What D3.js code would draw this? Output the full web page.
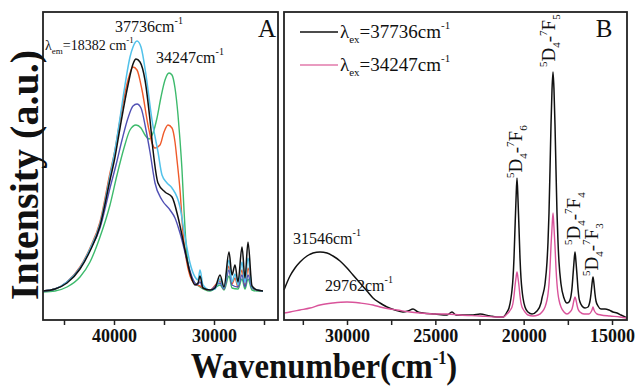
<!DOCTYPE html>
<html><head><meta charset="utf-8">
<script src="https://cdn.jsdelivr.net/npm/d3@7"></script>
<style>
body{margin:0;background:#fff}
svg{display:block}
svg text{font-family:"Liberation Serif","Times New Roman","DejaVu Serif",serif;}
</style>
</head><body>
<svg id="c" width="636" height="386"></svg>
<script>
// ---------- DATA (wavenumber cm^-1, intensity a.u.) ----------
// Panel A : excitation spectra
const blackA = [[47100,29],[45900,31],[44700,37],[43400,51],[42400,69],[41400,94],[40400,140],[39900,163],[39400,192],[38600,235],[38100,256],[37800,261],[37400,258],[36900,240],[36400,200],[36100,170],[35600,137],[34900,128],[34200,123],[33600,103],[32900,70],[32400,47],[31900,35],[31600,37],[31400,44],[31100,32],[30400,30],[29900,32],[29400,45],[29000,33],[28500,68],[28200,45],[27900,55],[27600,38],[27200,73],[26900,42],[26600,78],[26200,34],[25700,30],[25100,29]];
const cyanA = [[47100,29],[45900,31],[44700,38],[43400,52],[42400,71],[41400,96],[40400,144],[39900,170],[39400,202],[38900,235],[38400,263],[38100,273],[37700,279],[37300,273],[36800,245],[36200,200],[35600,168],[35200,145],[34700,137],[34200,132],[33400,113],[32900,83],[32400,57],[31900,43],[31600,40],[31400,50],[31100,35],[30400,30],[29900,31],[29400,41],[29000,32],[28500,60],[28200,38],[27900,46],[27600,35],[27200,58],[26900,37],[26600,62],[26200,33],[25700,30],[25100,29]];
const redA = [[47100,29],[45900,31],[44700,38],[43400,53],[42400,72],[41400,98],[40400,147],[39900,170],[39400,200],[38600,240],[38100,253],[37700,250],[37200,230],[36600,195],[36200,177],[35900,172],[35400,175],[35000,188],[34600,195],[34200,192],[33900,178],[33700,160],[33400,130],[33100,87],[32800,62],[32400,44],[31900,36],[31400,34],[30900,31],[30400,30],[29400,39],[29000,31],[28500,54],[28200,36],[27900,42],[27600,33],[27200,50],[26900,34],[26600,52],[26200,32],[25700,30],[25100,29]];
const purpleA = [[47100,29],[45900,31],[44700,38],[43400,52],[42400,70],[41400,92],[40400,132],[39800,155],[39200,180],[38600,202],[38100,214],[37700,216],[37300,212],[36800,190],[36400,168],[35900,137],[35200,120],[34400,110],[33900,102],[33400,87],[32700,60],[32200,43],[31700,35],[31400,38],[31100,32],[30400,30],[29400,37],[29000,31],[28500,50],[28200,35],[27600,33],[27200,45],[26900,33],[26600,45],[26200,32],[25700,30],[25100,29]];
const greenA = [[47100,28],[45900,29],[44700,33],[43400,43],[42400,58],[41400,83],[40400,115],[39700,145],[39000,172],[38400,190],[37800,195],[37300,192],[36900,185],[36500,181],[36100,187],[35700,202],[35300,223],[34900,240],[34500,247],[34200,245],[33900,232],[33600,205],[33400,180],[33200,150],[33000,110],[32800,77],[32600,57],[32100,40],[31400,33],[30400,29],[29400,35],[29000,30],[28500,44],[28200,32],[27600,31],[27200,41],[26900,31],[26600,41],[26200,30],[25700,29],[25100,29]];

// Panel B : emission spectra
const blackB = [[33566,30],[33226,44],[32943,52],[32660,58],[32264,64],[31924,67],[31528,68],[31132,67],[30792,64],[30396,59],[30000,52],[29660,45],[29264,37],[28868,29],[28528,22],[28132,17],[27736,13],[27283,10],[26830,8],[26547,9],[26264,11],[25981,8],[25698,7],[25019,6],[24340,5],[24057,8],[23831,5],[23321,5],[22868,5],[22472,6],[21906,4],[21510,3],[21170,3],
  [20944,8],[20831,12],[20718,22],[20661,30],[20604,42],[20548,62],[20491,92],[20435,120],[20378,142],[20321,120],[20265,92],[20208,62],[20152,42],[20095,30],[20038,22],[19925,13],[19755,8],[19529,6],[19246,9],[19020,17],[18963,22],[18793,36],[18680,58],[18623,78],[18567,107],[18510,150],[18454,195],[18397,230],[18340,248],[18284,230],[18227,195],[18171,150],[18114,107],[18057,78],[18001,58],[17888,36],[17718,22],[17548,17],[17435,18],[17378,20],[17322,24],[17265,32],[17208,45],[17152,58],[17095,68],[17039,58],[16982,45],[16925,31],[16869,22],[16812,18],[16699,14],[16529,12],[16359,13],[16303,15],[16246,19],[16190,26],[16133,36],[16076,43],[16020,36],[15963,26],[15907,19],[15793,14],[15624,11],[15397,11],[15171,10],[14944,8],[14718,7],[14491,5],[14265,3],[14152,2]];
const pinkB = [[33566,7],[33226,8],[32660,10],[32094,12],[31528,15],[30792,17],[30000,18],[29264,17],[28528,15],[28132,13],[27566,11],[27170,10],[26434,8],[25868,7],[25019,6],[24340,6],[23604,5],[22472,4],[21510,3],[21170,3],
  [20944,6],[20831,8],[20718,11],[20661,13],[20604,17],[20548,24],[20491,34],[20435,42],[20378,48],[20321,42],[20265,34],[20208,24],[20152,17],[20095,13],[20038,11],[19925,8],[19755,5],[19472,4],[19189,5],[18963,8],[18793,13],[18680,20],[18623,26],[18567,36],[18510,52],[18454,74],[18397,92],[18340,107],[18284,92],[18227,74],[18171,52],[18114,36],[18057,26],[18001,20],[17888,13],[17718,8],[17548,6],[17378,8],[17265,11],[17208,15],[17152,20],[17095,23],[17039,20],[16982,15],[16925,11],[16812,8],[16586,6],[16303,6],[16190,8],[16133,10],[16076,13],[16020,10],[15963,8],[15850,6],[15624,5],[15114,4],[14548,3],[14152,2]];

const ticksA = [45000,40000,35000,30000,25000];
const tickLabelsA = [40000,30000];
const ticksB = [32500,30000,27500,25000,22500,20000,17500,15000];
const tickLabelsB = [30000,25000,20000,15000];
const peakSubs = ["6","5","4","3"];

// ---------- DRAWING ----------
const svg = d3.select("#c");
const y = d3.scaleLinear().domain([0,308]).range([320,12]);
const xA = d3.scaleLinear().domain([47100,23600]).range([43,278]);
const xB = d3.scaleLinear().domain([33566,14152]).range([284,627]);

function drawLine(data, xs, color, w){
  const line = d3.line().x(d=>xs(d[0])).y(d=>y(d[1])).curve(d3.curveMonotoneX);
  svg.append("path").datum(data).attr("d", line).attr("fill","none")
    .attr("stroke", color).attr("stroke-width", w).attr("stroke-linejoin","round");
}

drawLine(greenA, xA, "#3dba6c", 1.4);
drawLine(redA, xA, "#ef5a2a", 1.4);
drawLine(purpleA, xA, "#5050b4", 1.4);
drawLine(cyanA, xA, "#52c2ea", 1.5);
drawLine(blackA, xA, "#111", 1.5);

drawLine(blackB, xB, "#111", 1.5);
drawLine(pinkB, xB, "#d9539a", 1.4);

// boxes
svg.append("rect").attr("x",43).attr("y",12).attr("width",235).attr("height",308)
  .attr("fill","none").attr("stroke","#222").attr("stroke-width",1.8);
svg.append("rect").attr("x",284).attr("y",12).attr("width",343).attr("height",308)
  .attr("fill","none").attr("stroke","#222").attr("stroke-width",1.8);

function axis(xs, tv, tl){
  const g = svg.append("g").attr("transform","translate(0,320)")
    .call(d3.axisBottom(xs).tickValues(tv).tickSize(5).tickFormat(d => tl.includes(d) ? d : ""));
  g.attr("font-family", null);
  g.select(".domain").remove();
  g.selectAll(".tick line").attr("stroke","#222").attr("stroke-width",1.5);
  g.selectAll(".tick text").filter(d => !tl.includes(d)).remove();
  g.selectAll(".tick text").attr("y",22).attr("dy",0)
    .attr("font-weight","bold").attr("font-size",18).attr("fill","#111");
}
axis(xA, ticksA, tickLabelsA);
axis(xB, ticksB, tickLabelsB);

// text helper with parts [text, size, dy]
function rich(x, yy, parts, opts={}){
  const t = svg.append("text").attr("x",x).attr("y",yy).attr("fill","#111");
  if(opts.anchor) t.attr("text-anchor",opts.anchor);
  if(opts.weight) t.attr("font-weight",opts.weight);
  if(opts.transform) t.attr("transform",opts.transform);
  parts.forEach(p => t.append("tspan").attr("font-size",p[1]).attr("dy",p[2]||0).text(p[0]));
  return t;
}

// Panel A annotations
rich(115,32,[["37736cm",16],["-1",10,-8]]);
rich(45,50,[["λ",14],["em",9,4],["=18382 cm",14,-4],["-1",9,-7]]);
rich(156,63,[["34247cm",16],["-1",10,-8]]);
rich(267,37,[["A",25]],{anchor:"middle"});

// Panel B legend
svg.append("line").attr("x1",300).attr("x2",338).attr("y1",32).attr("y2",32).attr("stroke","#111").attr("stroke-width",1.5);
svg.append("line").attr("x1",300).attr("x2",338).attr("y1",65).attr("y2",65).attr("stroke","#e27aab").attr("stroke-width",1.5);
rich(340,38,[["λ",19],["ex",11,5],["=37736cm",19,-5],["-1",11,-9]]);
rich(340,71,[["λ",19],["ex",11,5],["=34247cm",19,-5],["-1",11,-9]]);
rich(604,37,[["B",25]],{anchor:"middle"});

// Panel B annotations
rich(293,244,[["31546cm",16],["-1",10,-8]]);
rich(325,291,[["29762cm",16],["-1",10,-8]]);

const peakPos = [[522,178],[555,67],[580,245],[598,276]];
peakSubs.forEach((s,i) => {
  const [px,py] = peakPos[i];
  rich(0,0,[["5",11,-8],["D",19,8],["4",11,5],["-",19,-5],["7",11,-8],["F",19,8],[s,11,5]],
    {transform:`translate(${px},${py}) rotate(-90)`});
});

// axis titles
rich(0,0,[["Intensity (a.u.)",40]],{anchor:"middle",weight:"bold",transform:"translate(38,175) rotate(-90)"});
rich(0,0,[["Wavenumber(cm",36],["-1",18,-14],[")",36,14]],{anchor:"middle",weight:"bold",transform:"translate(324,378) scale(0.91,1)"});
</script>
</body></html>
